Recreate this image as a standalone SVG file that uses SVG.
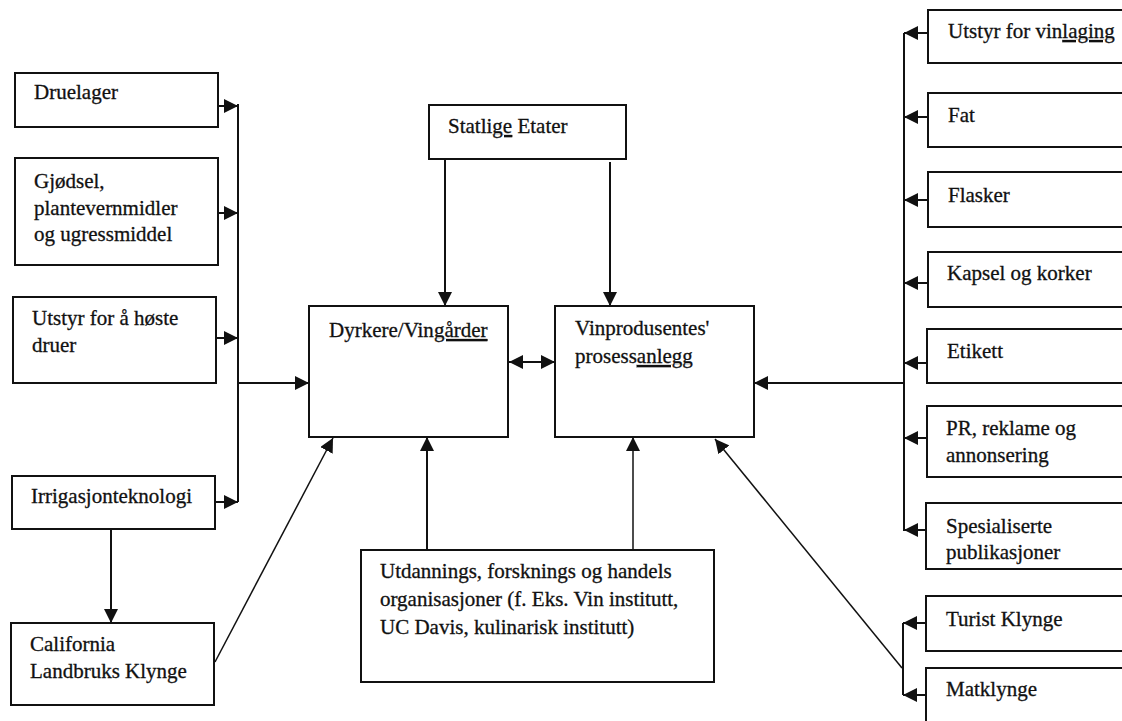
<svg xmlns="http://www.w3.org/2000/svg" width="1122" height="721" viewBox="0 0 1122 721">
  <style>
    .box { fill: #ffffff; stroke: #111111; stroke-width: 2; }
    .lbl { font-family: 'Liberation Serif', 'Times New Roman', 'DejaVu Serif', serif; font-size: 21px; fill: #111111; stroke: #111111; stroke-width: 0.3; }
    .ul { text-decoration: underline; }
    .wire { fill: none; stroke: #111111; stroke-width: 2; }
    .arr { fill: none; stroke: #111111; stroke-width: 2; marker-end: url(#head); }
    .arr2 { fill: none; stroke: #111111; stroke-width: 2; marker-start: url(#headStart); marker-end: url(#head); }
    .thin { stroke-width: 1.5; }
  </style>
  <defs>
    <marker id="head" markerUnits="userSpaceOnUse" markerWidth="15" markerHeight="14" refX="14" refY="7" orient="auto">
      <path d="M0,0 L14,7 L0,14 z" fill="#111111"/>
    </marker>
    <marker id="headStart" markerUnits="userSpaceOnUse" markerWidth="15" markerHeight="14" refX="0" refY="7" orient="auto">
      <path d="M14,0 L0,7 L14,14 z" fill="#111111"/>
    </marker>
  </defs>
  <rect width="1122" height="721" fill="#ffffff"/>

  <!-- connectors -->
  <g id="connectors">
    <!-- left supplier bus -->
    <line class="wire" x1="238" y1="104" x2="238" y2="502"/>
    <line class="arr" x1="218" y1="106" x2="238" y2="106"/>
    <line class="arr" x1="218" y1="213" x2="238" y2="213"/>
    <line class="arr" x1="216" y1="338" x2="238" y2="338"/>
    <line class="arr" x1="215" y1="502" x2="238" y2="502"/>
    <line class="arr" x1="238" y1="383" x2="309" y2="383"/>
    <!-- irrigation to agricultural cluster -->
    <line class="arr" x1="111" y1="529" x2="111" y2="623"/>
    <!-- agricultural cluster to growers -->
    <line class="arr thin" x1="215" y1="662" x2="333" y2="438"/>
    <!-- state agencies -->
    <line class="arr" x1="445" y1="159" x2="445" y2="306"/>
    <line class="arr" x1="610" y1="162" x2="610" y2="306"/>
    <!-- growers <-> processing -->
    <line class="arr2" x1="509" y1="362" x2="555" y2="362"/>
    <!-- education up to both -->
    <line class="arr" x1="427" y1="550" x2="427" y2="437"/>
    <line class="arr thin" x1="633" y1="550" x2="633" y2="437"/>
    <!-- right supplier bus -->
    <line class="wire" x1="904" y1="33" x2="904" y2="531"/>
    <line class="arr" x1="928" y1="33" x2="904" y2="33"/>
    <line class="arr" x1="928" y1="117" x2="904" y2="117"/>
    <line class="arr" x1="928" y1="200" x2="904" y2="200"/>
    <line class="arr" x1="928" y1="283" x2="904" y2="283"/>
    <line class="arr" x1="928" y1="363" x2="904" y2="363"/>
    <line class="arr" x1="928" y1="438" x2="904" y2="438"/>
    <line class="arr" x1="928" y1="530" x2="904" y2="530"/>
    <line class="arr" x1="904" y1="383" x2="754" y2="383"/>
    <!-- tourism / food clusters -->
    <line class="wire" x1="903" y1="623" x2="903" y2="695"/>
    <line class="arr" x1="927" y1="623" x2="903" y2="623"/>
    <line class="arr" x1="927" y1="695" x2="903" y2="695"/>
    <line class="arr thin" x1="902" y1="668" x2="715" y2="439"/>
  </g>

  <!-- left column -->
  <g id="druelager">
    <rect class="box" x="15" y="73" width="203" height="54"/>
    <text class="lbl" x="34" y="99">Druelager</text>
  </g>
  <g id="gjodsel">
    <rect class="box" x="15" y="158" width="203" height="107"/>
    <text class="lbl" x="34" y="188">Gjødsel,</text>
    <text class="lbl" x="34" y="215">plantevernmidler</text>
    <text class="lbl" x="34" y="241">og ugressmiddel</text>
  </g>
  <g id="utstyr-hoste">
    <rect class="box" x="13" y="297" width="203" height="86"/>
    <text class="lbl" x="32" y="325">Utstyr for å høste</text>
    <text class="lbl" x="32" y="352">druer</text>
  </g>
  <g id="irrigasjon">
    <rect class="box" x="12" y="476" width="203" height="53"/>
    <text class="lbl" x="31" y="503">Irrigasjonteknologi</text>
  </g>
  <g id="california">
    <rect class="box" x="11" y="623" width="203" height="82"/>
    <text class="lbl" x="30" y="651">California</text>
    <text class="lbl" x="30" y="678">Landbruks Klynge</text>
  </g>

  <!-- centre -->
  <g id="statlige">
    <rect class="box" x="429" y="105" width="197" height="54"/>
    <text class="lbl" x="448" y="133">Statli<tspan class="ul">ge</tspan> Etater</text>
  </g>
  <g id="dyrkere">
    <rect class="box" x="309" y="306" width="199" height="131"/>
    <text class="lbl" x="329" y="337">Dyrkere/Vin<tspan class="ul">gårder</tspan></text>
  </g>
  <g id="vinprodusent">
    <rect class="box" x="555" y="306" width="199" height="131"/>
    <text class="lbl" x="575" y="335">Vinprodusentes'</text>
    <text class="lbl" x="575" y="363">prosess<tspan class="ul">anlegg</tspan></text>
  </g>
  <g id="utdanning">
    <rect class="box" x="361" y="550" width="353" height="132"/>
    <text class="lbl" x="380" y="578">Utdannings, forsknings og handels</text>
    <text class="lbl" x="380" y="606">organisasjoner (f. Eks. Vin institutt,</text>
    <text class="lbl" x="380" y="634">UC Davis, kulinarisk institutt)</text>
  </g>

  <!-- right column -->
  <g id="utstyr-vinlaging">
    <rect class="box" x="928" y="10" width="220" height="53"/>
    <text class="lbl" x="948" y="38">Utstyr for vin<tspan class="ul">laging</tspan></text>
  </g>
  <g id="fat">
    <rect class="box" x="928" y="93" width="220" height="54"/>
    <text class="lbl" x="948" y="122">Fat</text>
  </g>
  <g id="flasker">
    <rect class="box" x="928" y="172" width="220" height="55"/>
    <text class="lbl" x="948" y="202">Flasker</text>
  </g>
  <g id="kapsel">
    <rect class="box" x="928" y="252" width="220" height="55"/>
    <text class="lbl" x="947" y="280">Kapsel og korker</text>
  </g>
  <g id="etikett">
    <rect class="box" x="927" y="329" width="220" height="54"/>
    <text class="lbl" x="947" y="358">Etikett</text>
  </g>
  <g id="pr">
    <rect class="box" x="927" y="406" width="220" height="71"/>
    <text class="lbl" x="946" y="435">PR, reklame og</text>
    <text class="lbl" x="946" y="462">annonsering</text>
  </g>
  <g id="spesialisert">
    <rect class="box" x="926" y="503" width="220" height="66"/>
    <text class="lbl" x="946" y="533">Spesialiserte</text>
    <text class="lbl" x="946" y="559">publikasjoner</text>
  </g>
  <g id="turist">
    <rect class="box" x="926" y="596" width="220" height="55"/>
    <text class="lbl" x="946" y="626">Turist Klynge</text>
  </g>
  <g id="matklynge">
    <rect class="box" x="926" y="668" width="220" height="80"/>
    <text class="lbl" x="946" y="696">Matklynge</text>
  </g>
</svg>
